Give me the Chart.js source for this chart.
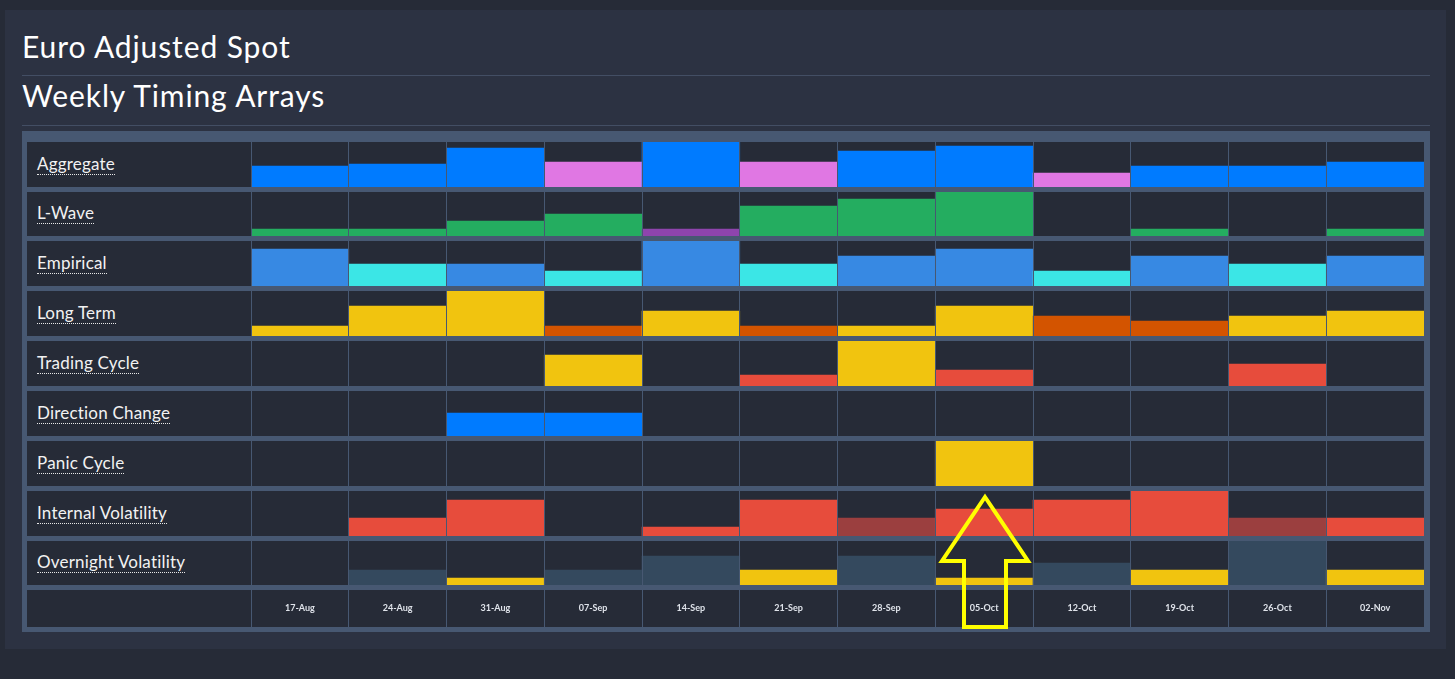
<!DOCTYPE html>
<html lang="en">
<head>
    <meta charset="UTF-8">
    <title>Euro Adjusted Spot - Weekly Timing Arrays</title>
    <script src="https://cdn.jsdelivr.net/npm/chart.js"></script>
    <style>
        html, body { margin: 0; padding: 0; }
        body {
            background-color: #262b37;
            width: 1455px;
            height: 679px;
            overflow: hidden;
            position: relative;
            font-family: Lato, "Open Sans", sans-serif;
            color: #ffffff;
        }
        .panel {
            position: absolute;
            left: 5px;
            top: 10px;
            width: 1441px;
            height: 639px;
            background-color: #2c3242;
        }
        .title {
            position: absolute;
            left: 17px;
            margin: 0;
            font-weight: 400;
            font-size: 30px;
            line-height: 30px;
            letter-spacing: 0.9px;
            white-space: nowrap;
        }
        .rule {
            position: absolute;
            left: 17px;
            width: 1408px;
            height: 1px;
            background-color: #434e64;
        }
        .grid {
            position: absolute;
            left: 17px;
            top: 121px;
            width: 1408px;
            height: 501px;
            box-sizing: border-box;
            padding: 11px 6px 5px 5px;
            background-color: #475872;
            display: flex;
            flex-direction: column;
            gap: 5px;
        }
        .row { display: flex; }
        .label {
            width: 224px;
            background-color: #262b37;
            display: flex;
            align-items: center;
            box-sizing: border-box;
            padding-left: 10px;
        }
        .label span {
            font-size: 17px;
            line-height: 17px;
            letter-spacing: 0.2px;
            padding-bottom: 2px;
            border-bottom: 1px dotted #e8e8e8;
            color: #f2f2f2;
            white-space: nowrap;
        }
        canvas { display: block; background-color: #262b37; }
        #arrow { position: absolute; left: 0; top: 0; pointer-events: none; }
    </style>
</head>
<body>
    <div class="panel">
        <h1 class="title" style="top: 21px;">Euro Adjusted Spot</h1>
        <div class="rule" style="top: 65px;"></div>
        <h1 class="title" style="top: 70px;">Weekly Timing Arrays</h1>
        <div class="rule" style="top: 115px;"></div>
        <div class="grid" id="grid"></div>
    </div>

    <svg id="arrow" width="1455" height="679">
        <polygon points="985,497 1028,561 1006,561 1006,627 964,627 964,561 942,561"
                 fill="none" stroke="#ffff00" stroke-width="4" stroke-linejoin="miter"/>
    </svg>

    <script>
        // weeks along the x axis
        const weeks = ['17-Aug', '24-Aug', '31-Aug', '07-Sep', '14-Sep', '21-Sep',
                       '28-Sep', '05-Oct', '12-Oct', '19-Oct', '26-Oct', '02-Nov'];

        const rowNames = ['Aggregate', 'L-Wave', 'Empirical', 'Long Term', 'Trading Cycle',
                          'Direction Change', 'Panic Cycle', 'Internal Volatility', 'Overnight Volatility'];

        // strength per week, and which signal type it is ('a' / 'b', '-' = none)
        const aggregate       = [21, 23, 39, 25, 45, 25, 36, 41, 14, 21, 21, 25];
        const aggregateSig    = ['a', 'a', 'a', 'b', 'a', 'b', 'a', 'a', 'b', 'a', 'a', 'a'];

        const lWave           = [7, 7, 15, 22, 7, 30, 37, 44, 0, 7, 0, 7];
        const lWaveSig        = ['a', 'a', 'a', 'a', 'b', 'a', 'a', 'a', '-', 'a', '-', 'a'];

        const empirical       = [37, 22, 22, 15, 45, 22, 30, 37, 15, 30, 22, 30];
        const empiricalSig    = ['a', 'b', 'a', 'b', 'a', 'b', 'a', 'a', 'b', 'a', 'b', 'a'];

        const longTerm        = [10, 30, 45, 10, 25, 10, 10, 30, 20, 15, 20, 25];
        const longTermSig     = ['a', 'a', 'a', 'b', 'a', 'b', 'a', 'a', 'b', 'b', 'a', 'a'];

        const tradingCycle    = [0, 0, 0, 31, 0, 11, 45, 16, 0, 0, 22, 0];
        const tradingCycleSig = ['-', '-', '-', 'a', '-', 'b', 'a', 'b', '-', '-', 'b', '-'];

        const directionChange    = [0, 0, 23, 23, 0, 0, 0, 0, 0, 0, 0, 0];
        const directionChangeSig = ['-', '-', 'a', 'a', '-', '-', '-', '-', '-', '-', '-', '-'];

        const panicCycle      = [0, 0, 0, 0, 0, 0, 0, 45, 0, 0, 0, 0];
        const panicCycleSig   = ['-', '-', '-', '-', '-', '-', '-', 'a', '-', '-', '-', '-'];

        const internalVol     = [0, 18, 36, 0, 9, 36, 18, 27, 36, 45, 18, 18];
        const internalVolSig  = ['-', 'a', 'a', '-', 'a', 'a', 'b', 'a', 'a', 'a', 'b', 'a'];

        const overnightVol    = [0, 15, 7, 15, 29, 15, 29, 7, 22, 15, 44, 15];
        const overnightVolSig = ['-', 'a', 'b', 'a', 'a', 'b', 'a', 'b', 'a', 'b', 'a', 'b'];

        const rowValues  = [aggregate, lWave, empirical, longTerm, tradingCycle,
                            directionChange, panicCycle, internalVol, overnightVol];
        const rowSignals = [aggregateSig, lWaveSig, empiricalSig, longTermSig, tradingCycleSig,
                            directionChangeSig, panicCycleSig, internalVolSig, overnightVolSig];

        // colours per row for signal a / b
        const palettes = [
            { a: '#007bff', b: '#e077e3' },
            { a: '#24ad60', b: '#8e44ad' },
            { a: '#3789e3', b: '#3be6e6' },
            { a: '#f1c40f', b: '#d35400' },
            { a: '#f1c40f', b: '#e74c3c' },
            { a: '#007bff', b: '#007bff' },
            { a: '#f1c40f', b: '#f1c40f' },
            { a: '#e74c3c', b: '#9b3f3f' },
            { a: '#34495e', b: '#f1c40f' }
        ];

        // layout
        const rowHeights = [45, 44, 45, 45, 45, 45, 45, 45, 44];
        const axisHeight = 37;
        const chartWidth = 1173;
        const lineColor = '#475872';

        const grid = document.getElementById('grid');

        function addRow(name, height) {
            const row = document.createElement('div');
            row.className = 'row';
            const label = document.createElement('div');
            label.className = 'label';
            if (name) {
                const span = document.createElement('span');
                span.textContent = name;
                label.appendChild(span);
            }
            const canvas = document.createElement('canvas');
            canvas.width = chartWidth;
            canvas.height = height;
            canvas.style.width = chartWidth + 'px';
            canvas.style.height = height + 'px';
            row.appendChild(label);
            row.appendChild(canvas);
            grid.appendChild(row);
            return canvas;
        }

        rowNames.forEach((name, i) => {
            const canvas = addRow(name, rowHeights[i]);
            const colors = rowSignals[i].map(s => palettes[i][s] || 'transparent');
            new Chart(canvas, {
                type: 'bar',
                data: {
                    labels: weeks,
                    datasets: [{
                        label: name,
                        data: rowValues[i],
                        backgroundColor: colors,
                        borderWidth: 0,
                        barPercentage: 1,
                        categoryPercentage: 1
                    }]
                },
                options: {
                    responsive: false,
                    animation: false,
                    events: [],
                    layout: { padding: 0 },
                    plugins: { legend: { display: false }, tooltip: { enabled: false } },
                    scales: {
                        x: {
                            display: true,
                            offset: true,
                            ticks: { display: false },
                            border: { display: false },
                            grid: { offset: true, drawTicks: false, color: lineColor, lineWidth: 1, z: 1 }
                        },
                        y: { display: false, min: 0, max: rowHeights[i] }
                    }
                }
            });
        });

        // bottom row with the week labels (mirrored ticks sit inside the cell)
        const axisCanvas = addRow('', axisHeight);
        new Chart(axisCanvas, {
            type: 'bar',
            data: { labels: weeks, datasets: [{ data: [] }] },
            options: {
                responsive: false,
                animation: false,
                events: [],
                layout: { padding: 0 },
                plugins: { legend: { display: false }, tooltip: { enabled: false } },
                scales: {
                    x: {
                        display: true,
                        offset: true,
                        border: { display: false },
                        grid: { offset: true, drawTicks: false, color: lineColor, lineWidth: 1, z: 1 },
                        ticks: {
                            mirror: true,
                            padding: 14,
                            color: '#dfe3ea',
                            maxRotation: 0,
                            autoSkip: false,
                            font: { family: 'Lato', size: 9, weight: 'bold' }
                        },
                        afterFit: (scale) => { scale.height = 0; }
                    },
                    y: { display: false }
                }
            }
        });
    </script>
</body>
</html>
